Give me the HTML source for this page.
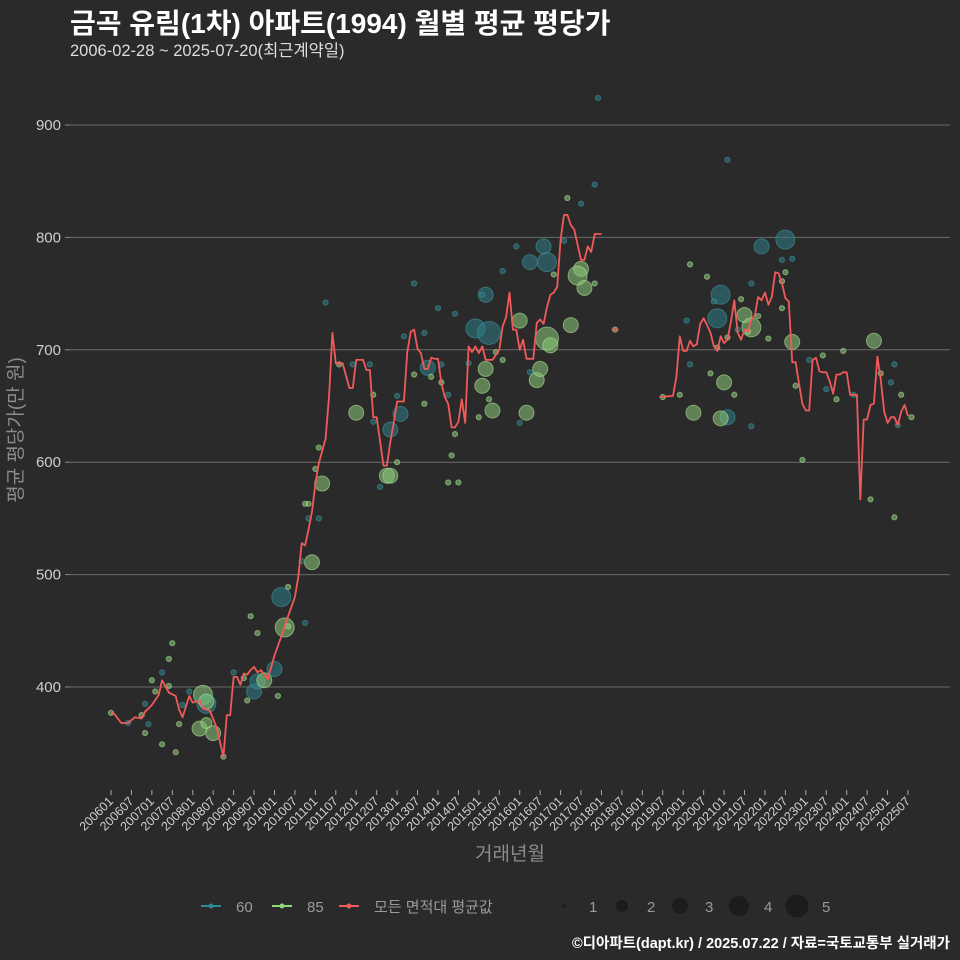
<!DOCTYPE html>
<html><head><meta charset="utf-8">
<style>
html,body{margin:0;padding:0;background:#2b2a2b;}
#wrap{position:relative;width:960px;height:960px;background:#2b2a2b;overflow:hidden;font-family:"Liberation Sans","Noto Sans CJK KR",sans-serif;}
.t{position:absolute;white-space:nowrap;}
</style></head>
<body>
<div id="wrap">
<div class="t" style="left:70px;top:2px;font-size:28px;font-weight:bold;color:#fff;">금곡 유림(1차) 아파트(1994) 월별 평균 평당가</div>
<div class="t" style="left:70px;top:37px;font-size:16.5px;color:#ddd;">2006-02-28 ~ 2025-07-20(최근계약일)</div>
<div class="t" style="right:10px;top:932px;font-size:14.5px;font-weight:bold;color:#fff;">©디아파트(dapt.kr) / 2025.07.22 / 자료=국토교통부 실거래가</div>
<svg id="chart" width="960" height="960" style="position:absolute;left:0;top:0;"></svg>
</div>
<script>
// month index = months since 2006-01
const lineMonths = [0,1,3,5,7,9,10,12,14,15,17,19,20,21,23,24,26,27,29,31,33,34,35,36,37,38,39,40,41,42,43,44,46,48,50,52,54,55,56,57,58,59,60,61,63,64,65,66,68,70,71,72,74,75,76,77,78,80,81,82,83,84,86,87,88,89,90,91,92,93,94,95,96,97,98,99,100,101,102,103,104,105,106,107,108,109,110,112,114,115,116,117,118,119,120,121,122,124,125,126,127,128,129,130,131,132,133,134,135,136,138,139,140,141,142,144,null,147,149,null,161,165,166,167,168,169,170,171,172,173,174,175,176,177,178,179,180,181,182,183,184,185,186,187,188,189,190,191,192,193,194,195,196,197,198,199,200,201,202,203,204,205,206,207,208,209,210,211,212,213,214,215,216,217,218,219,220,221,222,223,224,225,226,227,228,229,230,231,232,233,234];
const lineValues = [377,376,368,368,373,372,378,384,393,406,395,392,380,373,392,386,388,381,379,364,338,375,375,409,409,402,412,411,415,418,413,415,407,428,445,463,480,498,528,526,540,556,581,599,621,658,715,688,688,666,666,691,691,682,682,640,640,597,597,618,635,654,654,698,716,718,701,697,683,683,693,692,692,670,658,652,631,631,636,656,635,703,698,703,697,703,691,691,700,721,729,751,718,718,700,709,692,692,724,727,723,738,749,751,756,798,820,820,811,807,780,780,792,787,803,803,null,718,718,null,658,659,676,712,699,699,708,703,705,723,728,722,715,703,699,712,706,709,725,744,715,709,718,716,727,730,747,744,751,740,747,769,768,759,746,743,689,689,670,652,646,646,691,693,681,680,680,672,661,678,678,680,680,660,660,660,567,638,638,651,652,694,673,645,635,640,640,633,645,651,641];
// bubbles (grouped in tens)
const bubMonths = [
18,17,15,12,13,10,9,11,10,15,
19,20,17,23,27,28,28,26,30,28,
21,33,0,5,36,39,41,43,40,42,
43,45,48,49,50,51,52,52,57,59,
56,58,61,57,58,60,62,61,72,67,
71,76,77,77,79,81,63,82,82,85,
84,84,89,86,92,89,93,94,97,97,
96,101,99,92,101,100,99,102,105,107,
111,110,109,110,109,112,111,108,113,115,
115,119,120,122,120,123,125,126,128,129,
123,128,127,130,133,135,138,137,139,142,
134,138,142,148,143,162,167,170,169,170,
171,175,179,177,178,176,180,183,181,179,
178,181,185,184,186,188,187,190,188,188,
193,191,198,197,200,198,197,197,200,201,
203,205,209,210,213,215,218,224,223,230,
226,229,230,232,231,235,181];
const bubValues = [
439,425,413,406,396,385,375,367,359,349,
342,367,401,396,393,385,387,363,359,368,
384,338,377,368,413,408,463,448,388,396,
405,406,416,392,480,453,454,489,457,511,
512,550,550,563,563,594,581,613,644,687,
687,687,660,636,578,588,742,629,588,643,
659,600,759,712,715,678,684,676,687,671,
737,732,660,652,625,606,582,582,688,719,
715,749,749,683,668,646,656,640,698,691,
770,792,726,644,635,680,673,683,710,704,
778,778,792,767,797,722,772,766,755,759,
835,830,847,718,924,658,660,776,726,687,
644,765,749,743,728,679,671,660,640,639,
702,711,745,718,731,720,716,730,759,632,
710,792,798,780,781,769,761,737,707,668,
602,691,695,665,656,699,660,708,567,551,
679,671,687,660,633,640,869];
const bubSizes = [
1,1,1,1,1,1,1,1,1,1,
1,1,1,1,4,4,3,3,3,2,
1,1,1,1,1,1,1,1,1,3,
3,3,3,1,4,4,1,1,1,3,
1,1,1,1,1,1,3,1,3,1,
1,1,1,1,1,3,1,3,3,3,
1,1,1,1,1,1,3,1,1,1,
1,1,1,1,1,1,1,1,1,4,
5,3,1,3,3,3,1,1,1,1,
1,1,3,3,1,1,3,3,5,3,
3,4,3,1,1,3,3,4,3,1,
1,1,1,1,1,1,1,1,1,1,
3,1,4,1,4,1,3,1,3,3,
1,1,1,1,3,4,1,1,1,1,
1,3,4,1,1,1,1,1,3,1,
1,1,1,1,1,1,1,3,1,1,
1,1,1,1,1,1,1];
const bubTypes = [
85,85,60,85,85,60,85,60,85,85,
85,85,85,60,85,60,85,85,85,85,
60,85,85,60,60,85,85,85,85,60,
60,85,60,85,60,85,85,85,60,85,
60,60,60,85,85,85,85,85,85,85,
60,60,85,60,60,85,60,60,85,60,
60,85,60,60,60,85,60,85,60,85,
60,60,60,85,85,85,85,85,60,60,
60,60,60,85,85,85,85,85,85,85,
60,60,85,85,60,60,85,85,85,85,
60,60,60,85,60,85,85,85,85,85,
85,60,60,85,60,85,85,85,60,60,
85,85,60,60,60,85,85,85,60,85,
85,85,85,60,85,85,85,85,60,60,
85,60,60,60,60,85,85,85,85,85,
85,60,85,60,85,85,60,85,85,85,
85,60,60,85,60,85,60];
const yTicks = [400,500,600,700,800,900];
const xTickLabels = [];
for (let y=2006;y<=2025;y++){ xTickLabels.push(y+'01'); xTickLabels.push(y+'07'); }

const NS='http://www.w3.org/2000/svg';
const svg=document.getElementById('chart');
const X0=111, PXM=3.406, Y900=125, PXV=1.124;
function xs(m){return X0+m*PXM;}
function ys(v){return Y900+(900-v)*PXV;}
function mk(tag,attrs,parent){const e=document.createElementNS(NS,tag);for(const k in attrs)e.setAttribute(k,attrs[k]);(parent||svg).appendChild(e);return e;}

yTicks.forEach(v=>{
  const g=mk('line',{x1:70,x2:950,y1:ys(v),y2:ys(v),stroke:'#6b6b6b','stroke-width':1});
  
  
  const tk=mk('line',{x1:65,x2:70,y1:ys(v),y2:ys(v),stroke:'#888'});
  
  
  const t=mk('text',{x:61,y:ys(v)+5,'text-anchor':'end','font-size':15,fill:'#cfcfcf'});
  t.textContent=v;
  
  
});
xTickLabels.forEach((lab,i)=>{
  const x=xs(i*6);
  const tk=mk('line',{x1:x,x2:x,y1:790,y2:795,stroke:'#aaa'});
  
  
  const t=mk('text',{x:x+3,y:802,'text-anchor':'end','font-size':12.5,fill:'#d0d0d0',transform:'rotate(-45 '+(x+3)+' 802)'});
  t.textContent=lab;
  
  
});
const xt=mk('text',{x:510,y:860,'text-anchor':'middle','font-size':19,fill:'#8c8c8c'});
xt.textContent='거래년월';


const yt=mk('text',{x:22,y:430,'text-anchor':'middle','font-size':19,fill:'#8c8c8c',transform:'rotate(-90 22 430)'});
yt.textContent='평균 평당가(만 원)';



const R=[0,2.6,5.5,7.5,9.5,11.5];
const FILL={60:'rgba(45,125,135,0.55)',85:'rgba(140,200,120,0.55)'};
const STROKE={60:'rgba(60,150,160,0.6)',85:'rgba(170,225,150,0.6)'};
bubMonths.forEach((m,i)=>{
  const c=mk('circle',{cx:xs(m),cy:ys(bubValues[i]),r:R[bubSizes[i]],fill:FILL[bubTypes[i]],stroke:STROKE[bubTypes[i]],'stroke-width':1});
  
  
});
let d='',pen=false;
lineMonths.forEach((m,i)=>{
  const v=lineValues[i];
  if(m===null||v===null){pen=false;return;}
  d+=(pen?'L':'M')+xs(m).toFixed(1)+' '+ys(v).toFixed(1)+' ';
  pen=true;
});
const ln=mk('path',{d:d,fill:'none',stroke:'#f05a5a','stroke-width':1.8,'stroke-linejoin':'round'});



const lg=mk('g',{});


const keys=[[211,'60','#2d8a94'],[282,'85','#8fd97a'],[349,'모든 면적대 평균값','#f05a5a']];
keys.forEach(k=>{
  const l=mk('line',{x1:k[0]-10,x2:k[0]+10,y1:906,y2:906,stroke:k[2],'stroke-width':2},lg);
  
  
  const c=mk('circle',{cx:k[0],cy:906,r:2.5,fill:k[2]},lg);
  
  
  const t=mk('text',{x:k[0]+25,y:912,'font-size':15,fill:'#9a9a9a'},lg);
  t.textContent=k[1];
  
  
});
const sizeKeys=[[564,1,2],[622,2,6],[680,3,8],[739,4,10],[797,5,11.5]];
sizeKeys.forEach(s=>{
  const c=mk('circle',{cx:s[0],cy:906,r:s[2],fill:'#1d1c1d'},lg);
  
  
  const t=mk('text',{x:s[0]+25,y:912,'font-size':15,fill:'#9a9a9a'},lg);
  t.textContent=s[1];
  
  
});
</script>
</body></html>
